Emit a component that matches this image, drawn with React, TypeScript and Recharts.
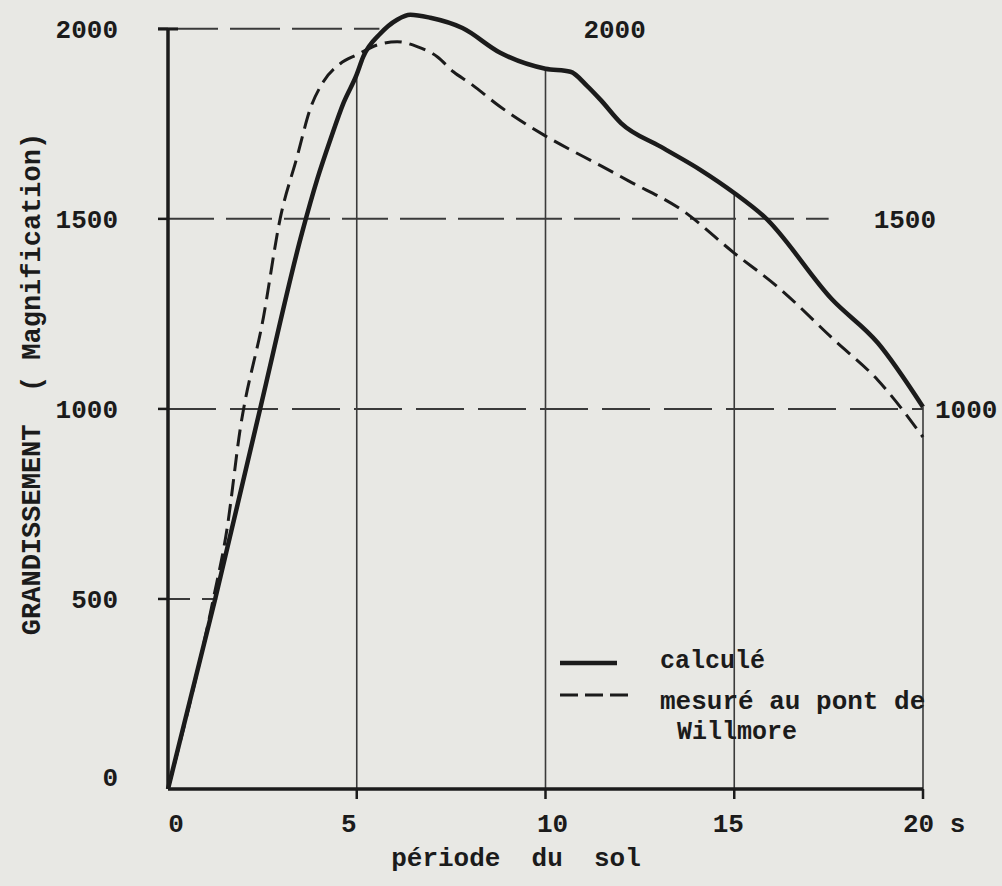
import React from 'react';
import { LineChart, Line, XAxis, YAxis, ReferenceLine } from 'recharts';

// ---- data ----
const calcPeriods = [0, 1.25, 2.44, 3.55, 3.95, 4.3, 4.65, 5.0, 5.17, 5.62, 6.07, 6.42, 6.95, 7.8, 8.8, 10.0, 10.66, 11.1, 11.46, 12.0, 13.05, 14.1, 15.0, 15.8, 17.6, 18.8, 20];
const calcValues = [0, 500, 1000, 1463, 1603, 1708, 1805, 1880, 1926, 1987, 2024, 2037, 2029, 2002, 1937, 1895, 1887, 1850, 1813, 1752, 1690, 1629, 1568, 1505, 1287, 1174, 1005];

const measPeriods = [0, 1.2, 1.56, 1.91, 2.53, 2.97, 3.42, 3.77, 4.11, 4.56, 5.01, 5.62, 6.07, 6.6, 7.14, 7.56, 8.0, 8.8, 9.95, 11.0, 11.46, 12.2, 13.6, 15.0, 16.15, 17.64, 18.8, 20];
const measValues = [0, 500, 682, 945, 1242, 1500, 1663, 1790, 1860, 1908, 1932, 1960, 1966, 1953, 1926, 1887, 1857, 1795, 1721, 1664, 1640, 1600, 1524, 1410, 1321, 1182, 1076, 926];

const xTicks = [0, 5, 10, 15, 20];
const yTicks = [0, 500, 1000, 1500, 2000];
const seriesNames = ['calculé', 'mesuré au pont de', 'Willmore'];
const xTitle = 'période  du  sol';
const yTitle = 'GRANDISSEMENT  ( Magnification)';
const xUnit = 's';

const calcData = calcPeriods.map((x, i) => ({ x, v: calcValues[i] }));
const measData = measPeriods.map((x, i) => ({ x, v: measValues[i] }));
const calcAt = (p: number) => calcValues[calcPeriods.indexOf(p)];

// ---- style ----
const W = 1002;
const H = 886;
const INK = '#1b1b1b';
const GRID = '#3a3a3a';
const PAPER = '#e8e8e4';
const FONT = '"Liberation Mono", "DejaVu Sans Mono", monospace';

const xTickDx: Record<number, number> = { 0: 8, 5: -8, 10: 7, 15: -6, 20: 0 };

const YTick = (props: any) => {
  const { x, y, payload } = props;
  const v = payload.value;
  return (
    <g>
      {v !== 0 && <line x1={x - 10} x2={x} y1={y} y2={y} stroke={INK} strokeWidth={2.5} />}
      <text x={x - 50} y={v === 0 ? y - 3 : y + 9} textAnchor="end" fontFamily={FONT} fontWeight="bold" fontSize={26} fill={INK}>
        {v}
      </text>
    </g>
  );
};

const XTick = (props: any) => {
  const { x, y, payload } = props;
  const v = payload.value;
  const last = v === xTicks[xTicks.length - 1];
  return (
    <g>
      {v !== 0 && <line x1={x} x2={x} y1={y} y2={y + 10} stroke={INK} strokeWidth={2.5} />}
      <text
        x={last ? x - 20 : x + xTickDx[v]}
        y={y + 43}
        textAnchor={last ? 'start' : 'middle'}
        fontFamily={FONT}
        fontWeight="bold"
        fontSize={26}
        fill={INK}
        style={{ whiteSpace: 'pre' }}
      >
        {last ? `${v} ${xUnit}` : v}
      </text>
    </g>
  );
};

const sideLabel = (value: number, offset: number) => ({
  value: String(value),
  position: 'right' as const,
  offset,
  fill: INK,
  fontSize: 26,
  fontFamily: FONT,
  fontWeight: 'bold',
});

export default function App() {
  return (
    <div style={{ position: 'absolute', left: 0, top: 0, width: W, height: H, background: PAPER }}>
      <LineChart width={W} height={H} data={calcData} margin={{ top: 6, right: 79, bottom: 67, left: 108 }}>
        <XAxis
          type="number"
          dataKey="x"
          domain={[0, 20]}
          ticks={xTicks}
          height={30}
          tickSize={0}
          tickMargin={0}
          axisLine={{ stroke: INK, strokeWidth: 3.5 }}
          tickLine={false}
          tick={XTick}
          interval={0}
        />
        <YAxis
          type="number"
          domain={[0, 2060]}
          ticks={yTicks}
          width={60}
          tickSize={0}
          tickMargin={0}
          axisLine={false}
          tickLine={false}
          tick={YTick}
          interval={0}
        />

        {/* dashed horizontal guides */}
        <ReferenceLine segment={[{ x: 0, y: 2000 }, { x: 5.6, y: 2000 }]} stroke={GRID} strokeWidth={2} strokeDasharray="50 12" label={sideLabel(2000, 204)} />
        <ReferenceLine segment={[{ x: 0, y: 1500 }, { x: 17.5, y: 1500 }]} stroke={GRID} strokeWidth={2} strokeDasharray="46 12" label={sideLabel(1500, 45)} />
        <ReferenceLine segment={[{ x: 0, y: 1000 }, { x: 20, y: 1000 }]} stroke={GRID} strokeWidth={2} strokeDasharray="48 14" label={sideLabel(1000, 12)} />
        <ReferenceLine segment={[{ x: 0, y: 500 }, { x: 1.3, y: 500 }]} stroke={GRID} strokeWidth={2} strokeDasharray="22 12" />

        {/* vertical drop lines to the computed curve */}
        {xTicks.slice(1).map((p) => (
          <ReferenceLine key={p} segment={[{ x: p, y: 0 }, { x: p, y: calcAt(p) }]} stroke={GRID} strokeWidth={1.6} />
        ))}

        {/* y axis line up to 2000 */}
        <ReferenceLine segment={[{ x: 0, y: 0 }, { x: 0, y: 2000 }]} stroke={INK} strokeWidth={3.5} />

        <Line data={measData} dataKey="v" type="monotone" stroke={INK} strokeWidth={3} strokeDasharray="17 8" dot={false} isAnimationActive={false} name={seriesNames[1]} />
        <Line data={calcData} dataKey="v" type="monotone" stroke={INK} strokeWidth={4.5} dot={false} isAnimationActive={false} name={seriesNames[0]} />
      </LineChart>

      {/* titles and legend */}
      <svg width={W} height={H} style={{ position: 'absolute', left: 0, top: 0, pointerEvents: 'none' }}>
        <line x1={158} x2={178} y1={29} y2={29} stroke={INK} strokeWidth={3} />
        <text x={40} y={384} transform="rotate(-90 40 384)" textAnchor="middle" fontFamily={FONT} fontWeight="bold" fontSize={27} fill={INK} style={{ whiteSpace: 'pre' }}>
          {yTitle}
        </text>
        <text x={516} y={866} textAnchor="middle" fontFamily={FONT} fontWeight="bold" fontSize={26} fill={INK} style={{ whiteSpace: 'pre' }}>
          {xTitle}
        </text>
        <line x1={560} x2={617} y1={663} y2={663} stroke={INK} strokeWidth={4.5} />
        <text x={660} y={668} fontFamily={FONT} fontWeight="bold" fontSize={25} fill={INK}>{seriesNames[0]}</text>
        <line x1={560} x2={628} y1={695} y2={695} stroke={INK} strokeWidth={3} strokeDasharray="18 7" />
        <text x={660} y={709} fontFamily={FONT} fontWeight="bold" fontSize={26} fill={INK}>{seriesNames[1]}</text>
        <text x={677} y={739} fontFamily={FONT} fontWeight="bold" fontSize={25} fill={INK}>{seriesNames[2]}</text>
      </svg>
    </div>
  );
}
